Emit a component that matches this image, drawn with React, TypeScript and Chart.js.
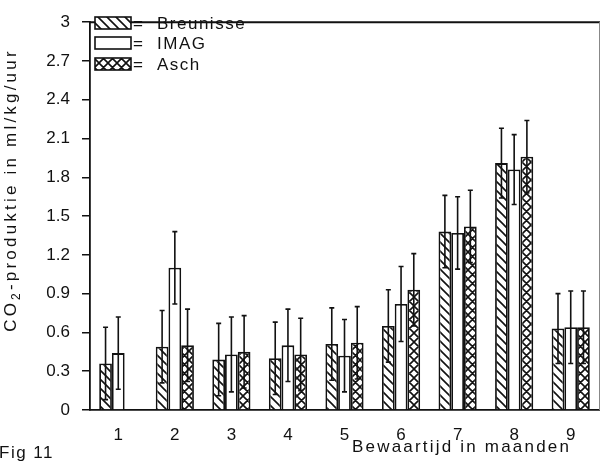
import React, { useEffect, useRef } from "react";
import { Chart, registerables } from "chart.js";

Chart.register(...registerables);

const categories = ["1", "2", "3", "4", "5", "6", "7", "8", "9"];
const seriesLabels = ["Breunisse", "IMAG", "Asch"];
const breunisse = [0.36, 0.49, 0.39, 0.4, 0.51, 0.65, 1.38, 1.91, 0.63];
const breunisseErr = [0.28, 0.28, 0.28, 0.28, 0.28, 0.28, 0.28, 0.27, 0.27];
const imag = [0.44, 1.1, 0.43, 0.5, 0.42, 0.82, 1.37, 1.86, 0.64];
const imagErr = [0.28, 0.28, 0.29, 0.28, 0.28, 0.29, 0.28, 0.27, 0.28];
const asch = [null, 0.5, 0.45, 0.43, 0.52, 0.93, 1.42, 1.96, 0.64];
const aschErr = [0, 0.28, 0.28, 0.28, 0.28, 0.28, 0.28, 0.28, 0.28];
const yTicks = [0, 0.3, 0.6, 0.9, 1.2, 1.5, 1.8, 2.1, 2.4, 2.7, 3];
const xTitle = "Bewaartijd in maanden";
const yTitleParts = ["CO", "2", "-produktie in ml/kg/uur"];
const figLabel = "Fig 11";

const FONT = "'Liberation Sans', Arial, sans-serif";
const INK = "#111";

function makePattern(kind: "diag" | "cross" | "none"): CanvasPattern | string {
  if (kind === "none") return "#fff";
  const s = 9;
  const c = document.createElement("canvas");
  c.width = s;
  c.height = s;
  const g = c.getContext("2d")!;
  g.fillStyle = "#fff";
  g.fillRect(0, 0, s, s);
  g.strokeStyle = INK;
  g.lineWidth = 1.6;
  g.beginPath();
  g.moveTo(-1, -1);
  g.lineTo(s + 1, s + 1);
  g.moveTo(-1, s - 1);
  g.lineTo(1, s + 1);
  g.moveTo(s - 1, -1);
  g.lineTo(s + 1, 1);
  if (kind === "cross") {
    g.moveTo(-1, s + 1);
    g.lineTo(s + 1, -1);
    g.moveTo(-1, 1);
    g.lineTo(1, -1);
    g.moveTo(s - 1, s + 1);
    g.lineTo(s + 1, s - 1);
  }
  g.stroke();
  return g.createPattern(c, "repeat")!;
}

const errorBarPlugin = {
  id: "errorBars",
  afterDatasetsDraw(chart: any) {
    const ctx = chart.ctx;
    const y = chart.scales.y;
    chart.data.datasets.forEach((ds: any, di: number) => {
      const meta = chart.getDatasetMeta(di);
      meta.data.forEach((bar: any, i: number) => {
        const v = ds.data[i];
        if (v == null) return;
        const e = ds.errors[i];
        const yt = y.getPixelForValue(v + e);
        const yb = y.getPixelForValue(v - e);
        const x = bar.x;
        ctx.save();
        ctx.strokeStyle = INK;
        ctx.lineWidth = 1.6;
        ctx.beginPath();
        ctx.moveTo(x, yt);
        ctx.lineTo(x, yb);
        ctx.moveTo(x - 2.5, yt);
        ctx.lineTo(x + 2.5, yt);
        ctx.moveTo(x - 2.5, yb);
        ctx.lineTo(x + 2.5, yb);
        ctx.stroke();
        ctx.restore();
      });
    });
  },
};

const decorPlugin = {
  id: "decor",
  afterDraw(chart: any) {
    const ctx = chart.ctx;
    const a = chart.chartArea;
    ctx.save();
    ctx.strokeStyle = INK;
    ctx.lineWidth = 2;
    ctx.beginPath();
    ctx.moveTo(a.left - 1, a.top);
    ctx.lineTo(a.right + 1, a.top);
    ctx.stroke();
    ctx.strokeStyle = "#888";
    ctx.lineWidth = 1;
    ctx.beginPath();
    ctx.moveTo(a.right + 0.5, a.top);
    ctx.lineTo(a.right + 0.5, a.bottom);
    ctx.stroke();

    // legend
    ctx.font = `17px ${FONT}`;
    ctx.fillStyle = INK;
    ctx.textBaseline = "alphabetic";
    (ctx as any).letterSpacing = "1.5px";
    const rowsY = [23, 43, 64];
    chart.data.datasets.forEach((ds: any, i: number) => {
      const cy = rowsY[i];
      ctx.fillStyle = ds.backgroundColor;
      ctx.fillRect(95, cy - 6, 36, 12);
      ctx.strokeStyle = INK;
      ctx.lineWidth = 1.6;
      ctx.strokeRect(95, cy - 6, 36, 12);
      ctx.fillStyle = INK;
      ctx.fillText("=", 133, cy + 6);
      ctx.fillText(ds.label, 157, cy + 6);
    });

    // x title
    (ctx as any).letterSpacing = "2.2px";
    ctx.fillText(xTitle, 352, 452);
    // fig label
    (ctx as any).letterSpacing = "1.5px";
    ctx.fillText(figLabel, -1, 458);

    // y title (rotated)
    ctx.translate(16, 190);
    ctx.rotate(-Math.PI / 2);
    (ctx as any).letterSpacing = "3.2px";
    ctx.font = `17px ${FONT}`;
    const w0 = ctx.measureText(yTitleParts[0]).width;
    ctx.font = `12px ${FONT}`;
    const w1 = ctx.measureText(yTitleParts[1]).width;
    ctx.font = `17px ${FONT}`;
    const w2 = ctx.measureText(yTitleParts[2]).width;
    let x = -(w0 + w1 + w2) / 2;
    ctx.fillText(yTitleParts[0], x, 0);
    x += w0;
    ctx.font = `12px ${FONT}`;
    ctx.fillText(yTitleParts[1], x, 4);
    x += w1;
    ctx.font = `17px ${FONT}`;
    ctx.fillText(yTitleParts[2], x, 0);
    ctx.restore();
  },
};

export default function App() {
  const ref = useRef<HTMLCanvasElement | null>(null);
  useEffect(() => {
    if (!ref.current) return;
    const pDiag = makePattern("diag");
    const pNone = makePattern("none");
    const pCross = makePattern("cross");
    const chart = new Chart(ref.current, {
      type: "bar",
      data: {
        labels: categories,
        datasets: [
          {
            label: seriesLabels[0],
            data: breunisse,
            errors: breunisseErr,
            backgroundColor: pDiag,
            borderColor: INK,
            borderWidth: 1.8,
          } as any,
          {
            label: seriesLabels[1],
            data: imag,
            errors: imagErr,
            backgroundColor: pNone,
            borderColor: INK,
            borderWidth: 1.8,
          } as any,
          {
            label: seriesLabels[2],
            data: asch,
            errors: aschErr,
            backgroundColor: pCross,
            borderColor: INK,
            borderWidth: 1.8,
          } as any,
        ],
      },
      options: {
        responsive: false,
        maintainAspectRatio: false,
        animation: false,
        devicePixelRatio: 1,
        layout: { padding: { top: 14, right: 2, left: 0, bottom: 0 } },
        datasets: { bar: { barPercentage: 1, categoryPercentage: 0.675 } },
        plugins: {
          legend: { display: false },
          tooltip: { enabled: false },
          title: { display: false },
        },
        scales: {
          x: {
            offset: true,
            afterFit: (s: any) => {
              s.height = 56;
            },
            grid: { display: true, drawOnChartArea: false, drawTicks: false },
            border: { display: true, color: INK, width: 1.8 },
            ticks: {
              color: INK,
              font: { family: FONT, size: 17 },
              padding: 15,
              maxRotation: 0,
            },
          },
          y: {
            min: 0,
            max: 3,
            afterFit: (s: any) => {
              s.width = 90;
            },
            afterBuildTicks: (s: any) => {
              s.ticks = yTicks.map((v) => ({ value: v }));
            },
            grid: {
              display: true,
              drawOnChartArea: false,
              drawTicks: true,
              tickLength: 8,
              color: INK,
              lineWidth: 1.5,
            },
            border: { display: true, color: INK, width: 1.8 },
            ticks: {
              color: INK,
              font: { family: FONT, size: 17 },
              padding: 12,
              callback: (v: any) => String(Number(Number(v).toFixed(1))),
            },
          },
        },
      },
      plugins: [errorBarPlugin, decorPlugin],
    });
    return () => chart.destroy();
  }, []);
  return (
    <div style={{ position: "fixed", left: 0, top: 0, width: 601, height: 466, background: "#fff" }}>
      <canvas ref={ref} width={601} height={466} />
    </div>
  );
}
